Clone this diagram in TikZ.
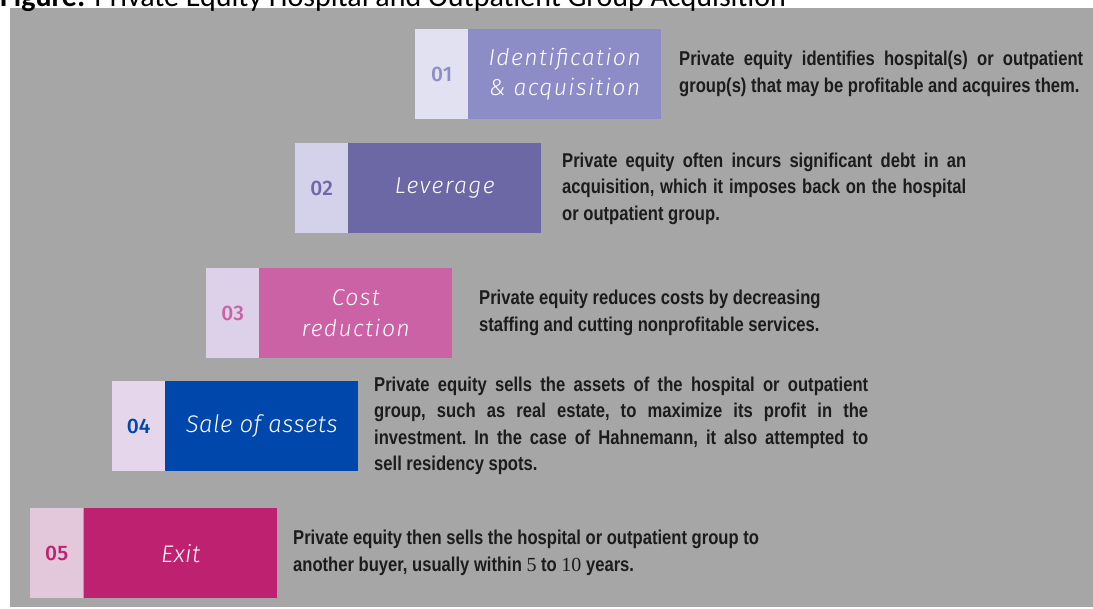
\documentclass[tikz,border=0pt]{standalone}
\usepackage{fontspec}
\setmainfont{Liberation Sans}
\newfontfamily\descfont{Liberation Sans Bold}[FakeStretch=0.83]
\newfontfamily\labfont{Fira Sans Light Italic}[LetterSpace=2]
\newfontfamily\labfontsp{Fira Sans Light Italic}[LetterSpace=6]
\newfontfamily\numfont{Fira Sans Medium}
\newfontfamily\titlefont{Carlito}
\newfontfamily\digitfont{Liberation Serif}

\definecolor{panel}{HTML}{A6A6A6}
\definecolor{ink}{HTML}{1C1C1C}
\definecolor{cA}{HTML}{8C8CC7}\definecolor{lA}{HTML}{E2E1F1}
\definecolor{cB}{HTML}{6C68A6}\definecolor{lB}{HTML}{D3D2EA}
\definecolor{cC}{HTML}{CB62A5}\definecolor{lC}{HTML}{DDD0E9}
\definecolor{cD}{HTML}{0047AB}\definecolor{lD}{HTML}{E6D6EB}
\definecolor{cE}{HTML}{BE2170}\definecolor{lE}{HTML}{E3C8DB}

\tikzset{
  numbox/.style={rectangle, inner sep=0pt, anchor=north west,
    minimum width=53pt, minimum height=90pt,
    font=\numfont\fontsize{21}{24}\selectfont},
  labbox/.style={rectangle, inner sep=0pt, anchor=north west,
    minimum width=193pt, minimum height=90pt, text=white, align=center},
  desc/.style={inner sep=0pt, anchor=west, text=ink,
    font=\descfont\fontsize{20}{26.5}\selectfont\frenchspacing},
  titletext/.style={inner sep=0pt, anchor=base west,
    font=\titlefont\fontsize{30}{34}\selectfont}
}

\begin{document}
\begin{tikzpicture}[x=1pt,y=-1pt]
\useasboundingbox (0,0) rectangle (1093,609);
\fill[panel] (10,8) rectangle (1093,607);

\node[titletext] (title) at (0,7) {\textbf{Figure:} Private Equity Hospital and Outpatient Group Acquisition};

% step 01
\node[numbox, fill=lA, text=cA] (n1) at (415,29) {01};
\node[labbox, fill=cA, font=\labfontsp\fontsize{23}{30}\selectfont] (s1) at (468,29) {Identification\\\& acquisition};
\node[desc, text width=404pt, align=justify] (d1) at (679,74)
  {Private equity identifies hospital(s) or outpatient\linebreak group(s) that may be profitable and acquires them.};

% step 02
\node[numbox, fill=lB, text=cB] (n2) at (295,143) {02};
\node[labbox, fill=cB, font=\labfontsp\fontsize{23}{30}\selectfont] (s2) at (348,143) {Leverage};
\node[desc, text width=404pt, align=justify] (d2) at (562,188.5)
  {Private equity often incurs significant debt in an\linebreak acquisition, which it imposes back on the hospital\linebreak or outpatient group.};

% step 03
\node[numbox, fill=lC, text=cC] (n3) at (206,268) {03};
\node[labbox, fill=cC, font=\labfontsp\fontsize{23}{31}\selectfont] (s3) at (259,268) {Cost\\reduction};
\node[desc, align=left] (d3) at (479,313)
  {Private equity reduces costs by decreasing\\staffing and cutting nonprofitable services.};

% step 04
\node[numbox, fill=lD, text=cD] (n4) at (112,381) {04};
\node[labbox, fill=cD, font=\labfont\fontsize{24}{30}\selectfont] (s4) at (165,381) {Sale of assets};
\node[desc, text width=494pt, align=justify] (d4) at (374,426)
  {Private equity sells the assets of the hospital or outpatient\linebreak group, such as real estate, to maximize its profit in the\linebreak investment. In the case of Hahnemann, it also attempted to\linebreak sell residency spots.};

% step 05
\node[numbox, fill=lE, text=cE] (n5) at (30,508) {05};
\node[labbox, fill=cE, font=\labfont\fontsize{24}{30}\selectfont] (s5) at (84,508) {Exit};
\node[desc, align=left] (d5) at (293,553)
  {Private equity then sells the hospital or outpatient group to\\another buyer, usually within {\digitfont\mdseries 5} to {\digitfont\mdseries 10} years.};
\end{tikzpicture}
\end{document}
